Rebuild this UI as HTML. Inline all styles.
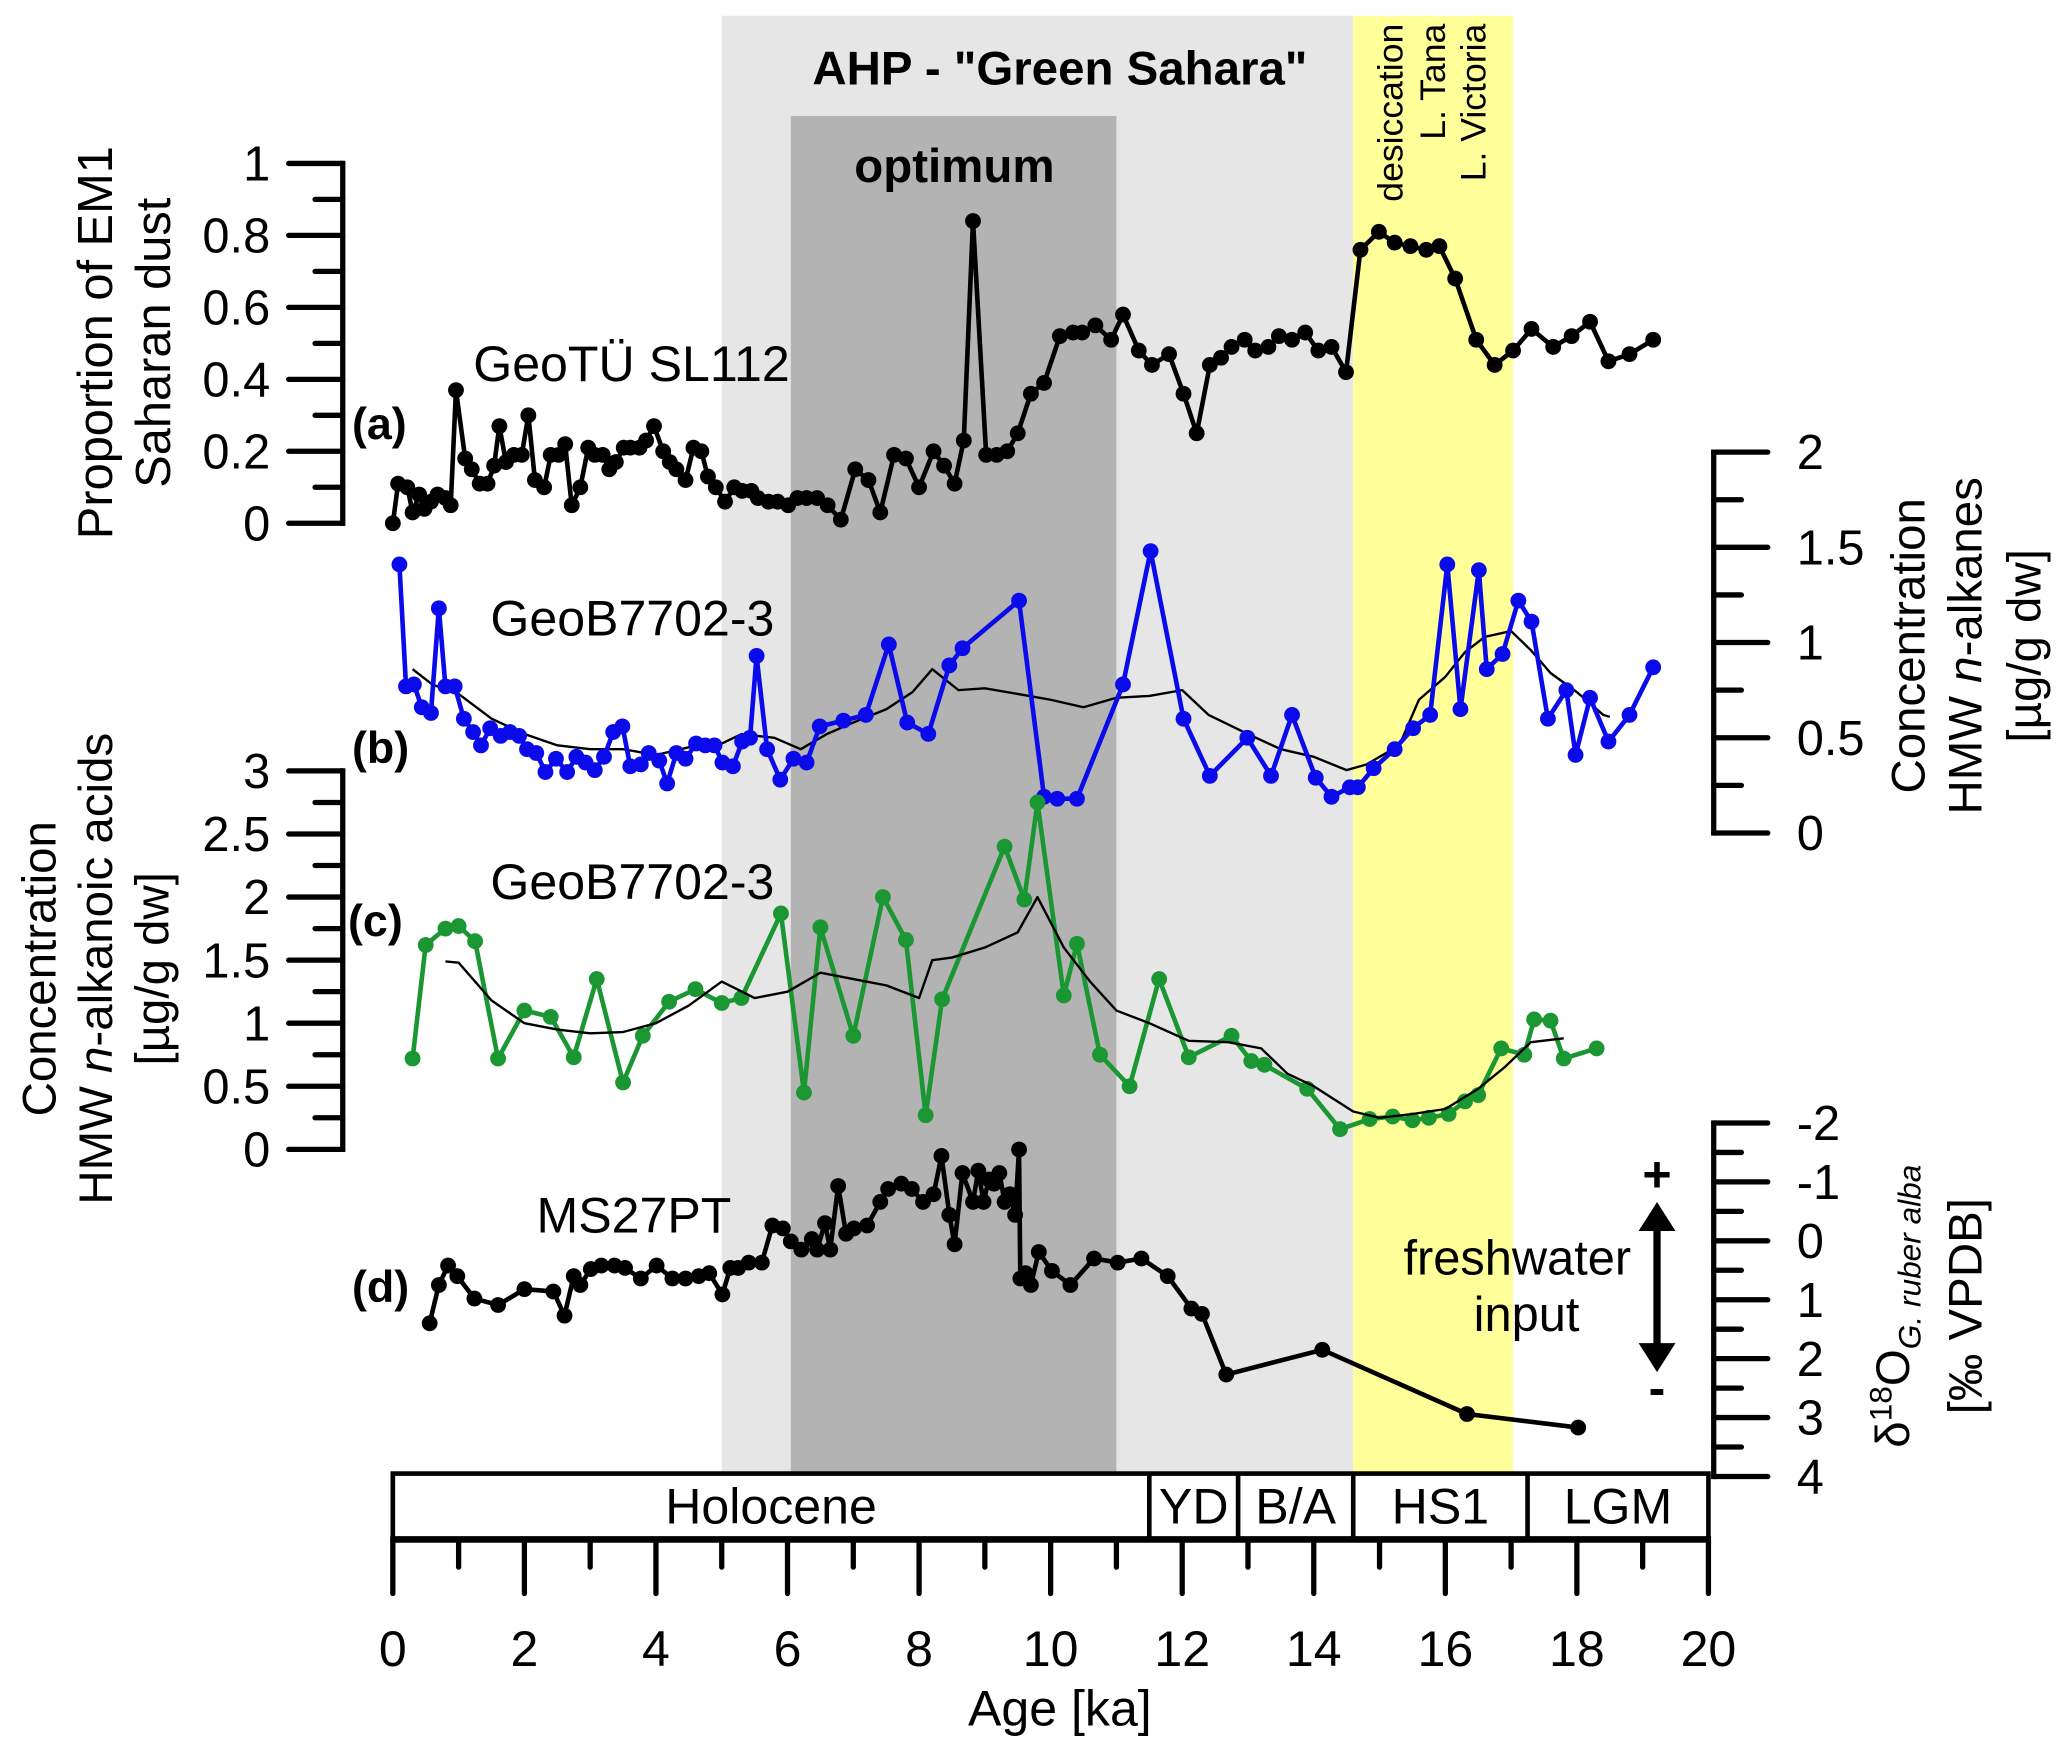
<!DOCTYPE html>
<html><head><meta charset="utf-8">
<style>
html,body{margin:0;padding:0;background:#fff;}
svg{display:block;font-family:"Liberation Sans",Arial,sans-serif;}
</style></head>
<body>
<svg id="chart" xmlns="http://www.w3.org/2000/svg" width="2067" height="1753" viewBox="0 0 1568 1330" preserveAspectRatio="none">
  <rect x="0" y="0" width="1568" height="1330" fill="#fff"/>
  <g id="shading"></g>
  <text x="804" y="64" font-size="36" font-weight="bold" text-anchor="middle">AHP - "Green Sahara"</text>
  <text x="724" y="138" font-size="36" font-weight="bold" text-anchor="middle">optimum</text>
  <text transform="translate(1064,18) rotate(-90)" font-size="27" text-anchor="end">desiccation</text>
  <text transform="translate(1096,18) rotate(-90)" font-size="27" text-anchor="end">L. Tana</text>
  <text transform="translate(1127,18) rotate(-90)" font-size="27" text-anchor="end">L. Victoria</text>
  <g id="axes"></g>
  <g id="series"></g>

  <text x="359" y="289" font-size="38">GeoTÜ SL112</text>
  <text x="267" y="333" font-size="34" font-weight="bold">(a)</text>
  <text x="372" y="482" font-size="38">GeoB7702-3</text>
  <text x="267" y="579" font-size="34" font-weight="bold">(b)</text>
  <text x="372" y="682" font-size="38">GeoB7702-3</text>
  <text x="264" y="710" font-size="34" font-weight="bold">(c)</text>
  <text x="407" y="935" font-size="38">MS27PT</text>
  <text x="267" y="988" font-size="34" font-weight="bold">(d)</text>

  <text transform="translate(85,260) rotate(-90)" font-size="37" text-anchor="middle">Proportion of EM1</text>
  <text transform="translate(129,260) rotate(-90)" font-size="37" text-anchor="middle">Saharan dust</text>
  <text transform="translate(1460,490) rotate(-90)" font-size="36" text-anchor="middle">Concentration</text>
  <text transform="translate(1503,490) rotate(-90)" font-size="36" text-anchor="middle">HMW <tspan font-style="italic">n</tspan>-alkanes</text>
  <text transform="translate(1548,490) rotate(-90)" font-size="36" text-anchor="middle">[µg/g dw]</text>
  <text transform="translate(42,735) rotate(-90)" font-size="36" text-anchor="middle">Concentration</text>
  <text transform="translate(85,735) rotate(-90)" font-size="36" text-anchor="middle">HMW <tspan font-style="italic">n</tspan>-alkanoic acids</text>
  <text transform="translate(128,735) rotate(-90)" font-size="36" text-anchor="middle">[µg/g dw]</text>
  <text transform="translate(1448,991) rotate(-90)" font-size="36" text-anchor="middle">δ<tspan font-size="24" dy="-13">18</tspan><tspan dy="13">O</tspan><tspan font-size="24" font-style="italic" dy="9">G. ruber alba</tspan></text>
  <text transform="translate(1503,991) rotate(-90)" font-size="36" text-anchor="middle">[‰ VPDB]</text>

  <text x="1257" y="904" font-size="38" font-weight="bold" text-anchor="middle">+</text>
  <text x="1257" y="1066" font-size="38" font-weight="bold" text-anchor="middle">-</text>
  <g>
    <line x1="1257" y1="930" x2="1257" y2="1022" stroke="#000" stroke-width="5.5"/>
    <polygon points="1257,912 1243,934 1271,934" fill="#000"/>
    <polygon points="1257,1041 1243,1019 1271,1019" fill="#000"/>
  </g>
  <text x="1151" y="967" font-size="37" text-anchor="middle">freshwater</text>
  <text x="1158" y="1010" font-size="37" text-anchor="middle">input</text>

  <g id="chrono"></g>
  <text x="804" y="1309" font-size="38" text-anchor="middle">Age [ka]</text>
</svg>
<script>
// ---------- data ----------
const ageA = [0,0.08,0.22,0.30,0.40,0.48,0.58,0.68,0.80,0.88,0.96,1.10,1.20,1.32,1.44,1.54,1.62,1.72,1.84,1.96,2.06,2.16,2.30,2.40,2.52,2.62,2.72,2.85,2.97,3.07,3.19,3.29,3.39,3.51,3.61,3.75,3.85,3.97,4.11,4.21,4.31,4.45,4.57,4.69,4.79,4.91,5.05,5.19,5.31,5.45,5.55,5.71,5.85,6.01,6.15,6.29,6.45,6.61,6.81,7.03,7.23,7.41,7.62,7.80,8.00,8.22,8.38,8.54,8.68,8.82,9.02,9.18,9.34,9.50,9.70,9.90,10.14,10.34,10.48,10.68,10.92,11.10,11.34,11.54,11.80,12.02,12.22,12.42,12.59,12.75,12.95,13.11,13.31,13.47,13.67,13.87,14.07,14.27,14.49,14.71,14.99,15.23,15.47,15.71,15.91,16.15,16.47,16.75,17.03,17.31,17.64,17.92,18.20,18.48,18.80,19.16];
const valA = [0,0.11,0.10,0.03,0.08,0.04,0.06,0.08,0.07,0.05,0.37,0.18,0.15,0.11,0.11,0.16,0.27,0.17,0.19,0.19,0.30,0.12,0.10,0.19,0.19,0.22,0.05,0.10,0.21,0.19,0.19,0.15,0.17,0.21,0.21,0.21,0.23,0.27,0.20,0.17,0.15,0.12,0.21,0.20,0.13,0.10,0.06,0.10,0.09,0.09,0.07,0.06,0.06,0.05,0.07,0.07,0.07,0.05,0.01,0.15,0.12,0.03,0.19,0.18,0.10,0.20,0.16,0.11,0.23,0.84,0.19,0.19,0.20,0.25,0.36,0.39,0.52,0.53,0.53,0.55,0.51,0.58,0.48,0.44,0.47,0.36,0.25,0.44,0.46,0.49,0.51,0.48,0.49,0.52,0.51,0.53,0.48,0.49,0.42,0.76,0.81,0.78,0.77,0.76,0.77,0.68,0.51,0.44,0.48,0.54,0.49,0.52,0.56,0.45,0.47,0.51];

const ageB = [0.10,0.20,0.32,0.44,0.58,0.70,0.80,0.94,1.08,1.22,1.34,1.48,1.64,1.78,1.92,2.04,2.18,2.32,2.48,2.65,2.79,2.93,3.07,3.21,3.35,3.49,3.61,3.77,3.89,4.05,4.17,4.31,4.45,4.61,4.75,4.89,5.01,5.17,5.31,5.43,5.53,5.69,5.89,6.09,6.29,6.49,6.85,7.19,7.54,7.82,8.14,8.46,8.66,9.52,9.90,10.10,10.40,11.10,11.52,12.02,12.42,12.99,13.35,13.67,14.03,14.27,14.55,14.67,14.91,15.23,15.51,15.77,16.03,16.23,16.51,16.63,16.87,17.11,17.31,17.56,17.84,17.98,18.20,18.48,18.80,19.16];
const valB = [1.41,0.77,0.78,0.66,0.63,1.18,0.77,0.77,0.60,0.53,0.46,0.55,0.51,0.53,0.51,0.44,0.42,0.32,0.39,0.32,0.40,0.37,0.33,0.40,0.53,0.56,0.35,0.36,0.42,0.38,0.26,0.42,0.39,0.47,0.46,0.46,0.37,0.35,0.48,0.50,0.93,0.44,0.28,0.39,0.37,0.56,0.59,0.62,0.99,0.58,0.52,0.88,0.97,1.22,0.19,0.18,0.18,0.78,1.48,0.60,0.30,0.50,0.30,0.62,0.29,0.19,0.24,0.24,0.34,0.44,0.55,0.62,1.41,0.65,1.38,0.86,0.94,1.22,1.11,0.60,0.75,0.41,0.71,0.48,0.62,0.87];
const ageBs = [0.3,0.6,1.0,1.5,2,2.5,3,3.5,4,4.5,5,5.3,5.8,6.2,6.6,7,7.5,7.9,8.2,8.6,9,9.5,10,10.5,11,11.5,12,12.4,13,13.5,14,14.5,14.8,15.3,15.6,16,16.3,16.6,17,17.3,17.6,18,18.4,18.5];
const valBs = [0.86,0.78,0.73,0.60,0.52,0.46,0.44,0.44,0.41,0.45,0.47,0.52,0.50,0.44,0.52,0.58,0.65,0.74,0.86,0.75,0.76,0.73,0.70,0.66,0.71,0.72,0.75,0.62,0.52,0.44,0.40,0.33,0.36,0.46,0.70,0.82,0.95,1.03,1.06,0.96,0.84,0.74,0.62,0.61];

const ageC = [0.3,0.5,0.8,1.0,1.25,1.6,2.0,2.4,2.75,3.1,3.5,3.8,4.2,4.6,5.0,5.3,5.9,6.25,6.5,7.0,7.45,7.8,8.1,8.35,9.3,9.6,9.8,10.2,10.4,10.75,11.2,11.65,12.1,12.75,13.05,13.25,13.9,14.4,14.85,15.2,15.5,15.75,16.05,16.3,16.5,16.85,17.2,17.35,17.6,17.8,18.3];
const valC = [0.72,1.62,1.75,1.77,1.65,0.72,1.10,1.05,0.73,1.35,0.53,0.90,1.17,1.27,1.16,1.20,1.87,0.45,1.76,0.90,2.00,1.66,0.27,1.19,2.40,1.98,2.75,1.22,1.63,0.75,0.50,1.35,0.73,0.90,0.70,0.67,0.48,0.16,0.24,0.26,0.23,0.25,0.28,0.38,0.43,0.80,0.75,1.03,1.02,0.72,0.80];
const ageCs = [0.8,1.0,1.5,2,2.5,3,3.5,4,4.5,5,5.5,6,6.5,7,7.5,8,8.2,8.5,9,9.5,9.8,10.2,10.6,11,11.5,12.1,12.7,13.2,13.6,14,14.6,15,15.5,16,16.5,16.9,17.3,17.8];
const valCs = [1.49,1.48,1.18,1.00,0.95,0.92,0.93,1.00,1.14,1.33,1.20,1.25,1.40,1.35,1.30,1.20,1.50,1.52,1.60,1.72,2.00,1.60,1.33,1.10,1.00,0.86,0.85,0.80,0.60,0.50,0.30,0.25,0.28,0.32,0.48,0.65,0.85,0.88];

const ageD = [0.56,0.70,0.84,0.98,1.24,1.60,2.00,2.44,2.61,2.75,2.85,3.01,3.17,3.37,3.53,3.77,4.01,4.25,4.45,4.65,4.81,5.01,5.13,5.25,5.41,5.61,5.77,5.93,6.05,6.21,6.37,6.45,6.57,6.65,6.77,6.89,7.01,7.21,7.41,7.53,7.73,7.89,8.06,8.22,8.34,8.46,8.54,8.66,8.82,8.90,8.98,9.06,9.14,9.22,9.30,9.38,9.46,9.52,9.54,9.62,9.70,9.82,10.02,10.30,10.66,11.02,11.38,11.78,12.14,12.30,12.67,14.13,16.33,18.02];
const valD = [1.40,0.75,0.42,0.60,0.98,1.09,0.82,0.86,1.27,0.60,0.75,0.48,0.42,0.42,0.46,0.64,0.42,0.64,0.64,0.60,0.55,0.91,0.46,0.46,0.37,0.37,-0.26,-0.21,0.01,0.15,-0.03,0.15,-0.30,0.15,-0.93,-0.12,-0.21,-0.26,-0.66,-0.88,-0.97,-0.88,-0.66,-0.79,-1.44,-0.44,0.06,-1.15,-0.66,-1.19,-0.66,-1.04,-0.97,-1.15,-0.66,-0.79,-0.44,-1.55,0.64,0.55,0.75,0.19,0.51,0.75,0.30,0.37,0.30,0.60,1.15,1.24,2.27,1.85,2.94,3.17];

const xTickLabels = ["0","2","4","6","8","10","12","14","16","18","20"];
const tickLabelsA = ["0","0.2","0.4","0.6","0.8","1"];
const tickLabelsB = ["0","0.5","1","1.5","2"];
const tickLabelsC = ["0","0.5","1","1.5","2","2.5","3"];
const tickLabelsD = ["-2","-1","0","1","2","3","4"];
const chronoNames = ["Holocene","YD","B/A","HS1","LGM"];
const chronoBounds = [0,11.5,12.85,14.6,17.25,20];

// ---------- scales ----------
const NS = "http://www.w3.org/2000/svg";
const X = a => 298 + a * 49.9;
const YA = v => 397 - v * 273;
const YB = v => 632 - v * 144.5;
const YC = v => 872 - v * 95.7;
const YD = v => 852 + (v + 2) * 44.7;

function mk(tag, attrs, parent) {
  const e = document.createElementNS(NS, tag);
  for (const k in attrs) e.setAttribute(k, attrs[k]);
  parent.appendChild(e);
  return e;
}

// shading
const sh = document.getElementById('shading');
let r = mk('rect', {x: X(5), y: 12, width: X(14.6) - X(5), height: 1106, fill: '#e6e6e6'}, sh);


r = mk('rect', {x: X(6.05), y: 88, width: X(11) - X(6.05), height: 1030, fill: '#b3b3b3'}, sh);


r = mk('rect', {x: X(14.6), y: 12, width: X(17.03) - X(14.6), height: 1106, fill: '#ffff99'}, sh);



// axes
const ax = document.getElementById('axes');
function vAxis(name, x0, side, yfun, vmin, vmax, step, labels, labelStep, ytop, ybot) {
  const g = mk('g', {}, ax);
  
  
  mk('line', {x1: x0, y1: ytop, x2: x0, y2: ybot, stroke: '#000', 'stroke-width': 4, 'stroke-linecap': 'square'}, g);
  const n = Math.round((vmax - vmin) / step);
  for (let i = 0; i <= n; i++) {
    const v = vmin + i * step;
    const major = Math.abs(v / labelStep - Math.round(v / labelStep)) < 1e-6;
    const len = major ? 41 : 21;
    mk('line', {x1: x0, y1: yfun(v), x2: x0 + side * len, y2: yfun(v), stroke: '#000', 'stroke-width': 4, 'stroke-linecap': 'round'}, g);
  }
  labels.forEach((lb, i) => {
    const v = vmin + i * labelStep;
    const t = mk('text', {x: side < 0 ? x0 - 55 : x0 + 63, y: yfun(v) + 13, 'font-size': 37, 'text-anchor': side < 0 ? 'end' : 'start'}, g);
    t.textContent = lb;
    
    
  });
}
vAxis('y-axis-a', 260, -1, YA, 0, 1, 0.1, tickLabelsA, 0.2, YA(1), YA(0));
vAxis('y-axis-b', 1300, 1, YB, 0, 2, 0.25, tickLabelsB, 0.5, YB(2), YB(0));
vAxis('y-axis-c', 260, -1, YC, 0, 3, 0.25, tickLabelsC, 0.5, YC(3), YC(0));
vAxis('y-axis-d', 1300, 1, YD, -2, 4, 0.5, tickLabelsD, 1, YD(-2), YD(4));

// series
const sg = document.getElementById('series');
function series(name, ages, vals, yfun, color, w, dots) {
  const g = mk('g', {}, sg);
  
  
  const pts = ages.map((a, i) => X(a).toFixed(1) + ',' + yfun(vals[i]).toFixed(1)).join(' ');
  mk('polyline', {points: pts, fill: 'none', stroke: color, 'stroke-width': w, 'stroke-linejoin': 'round'}, g);
  if (dots) ages.forEach((a, i) => {
    const c = mk('circle', {cx: X(a), cy: yfun(vals[i]), r: 6, fill: color}, g);
    
    
  });
}
series('series-a-em1-dust', ageA, valA, YA, '#000', 3.5, true);
series('series-b-smooth', ageBs, valBs, YB, '#000', 1.8, false);
series('series-b-n-alkanes', ageB, valB, YB, '#0a0aeb', 3.5, true);
series('series-c-n-alkanoic-acids', ageC, valC, YC, '#1a9632', 3.5, true);
series('series-c-smooth', ageCs, valCs, YC, '#000', 1.8, false);
series('series-d-d18o', ageD, valD, YD, '#000', 3.5, true);

// chronozone bar & x axis
const ch = document.getElementById('chrono');
mk('rect', {x: X(0), y: 1118, width: X(20) - X(0), height: 50, fill: '#fff', stroke: '#000', 'stroke-width': 3.5}, ch);
mk('line', {x1: X(0) - 2, y1: 1168, x2: X(20) + 2, y2: 1168, stroke: '#000', 'stroke-width': 5}, ch);
for (let i = 1; i < chronoBounds.length - 1; i++) {
  mk('line', {x1: X(chronoBounds[i]), y1: 1118, x2: X(chronoBounds[i]), y2: 1168, stroke: '#000', 'stroke-width': 3.5}, ch);
}
chronoNames.forEach((nm, i) => {
  const t = mk('text', {x: (X(chronoBounds[i]) + X(chronoBounds[i + 1])) / 2, y: 1156, 'font-size': 38, 'text-anchor': 'middle'}, ch);
  t.textContent = nm;
  
  
});
for (let a = 0; a <= 20; a++) {
  const major = a % 2 === 0;
  mk('line', {x1: X(a), y1: 1168, x2: X(a), y2: major ? 1209 : 1189, stroke: '#000', 'stroke-width': 4, 'stroke-linecap': 'round'}, ch);
}
xTickLabels.forEach((lb, i) => {
  const t = mk('text', {x: X(i * 2), y: 1264, 'font-size': 38, 'text-anchor': 'middle'}, ch);
  t.textContent = lb;
  
  
});
</script>
</body></html>
